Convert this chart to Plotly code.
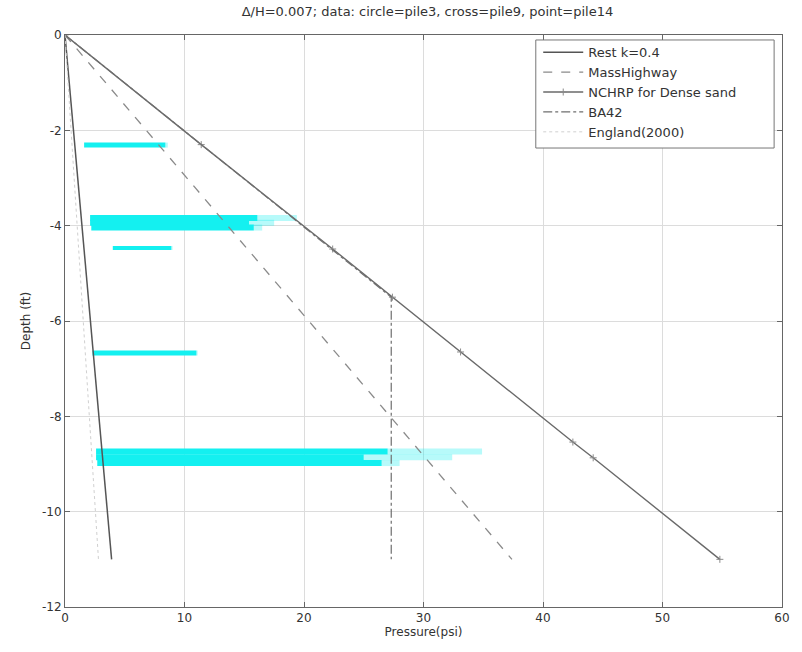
import plotly.graph_objects as go

# ---- design curves: lateral pressure (psi) vs depth (ft) ----
rest_depth = [0, -11]
rest_p = [0, 3.9]

mass_depth = [0, -11]
mass_p = [0, 37.4]

nchrp_depth = [0, -2.3, -4.49, -5.5, -6.65, -8.54, -8.87, -11]
nchrp_p = [0, 11.4, 22.4, 27.4, 33.1, 42.5, 44.2, 54.8]

ba42_depth = [0, -5.5, -11]
ba42_p = [0, 27.3, 27.3]

england_depth = [0, -11]
england_p = [0, 2.8]

# ---- measured pressures: gauge depth and range of readings ----
gauge_depth = [-2.31, -3.84, -3.94, -4.04, -4.47, -6.67, -8.74, -8.86, -8.98]
gauge_p_low = [1.6, 2.1, 2.1, 2.2, 4.0, 2.3, 2.6, 2.6, 2.7]
gauge_p_high = [8.4, 16.1, 15.4, 15.8, 8.9, 11.0, 27.0, 25.0, 26.5]
gauge_p_peak = [8.6, 19.4, 17.5, 16.5, 9.0, 11.1, 34.9, 32.4, 28.0]
gauge_width = [5, 6, 6, 6, 4, 5, 6, 6, 6]

# ---- axis ticks ----
x_ticks = [0, 10, 20, 30, 40, 50, 60]
y_ticks = [0, -2, -4, -6, -8, -10, -12]
x_tick_text = [str(v) for v in x_ticks]
y_tick_text = [str(v) for v in y_ticks]

CYAN = "#14f0f0"
FONT = "DejaVu Sans, Verdana, sans-serif"

fig = go.Figure()

# measured bands (drawn first so the design lines sit on top)
for d, lo, hi, pk, w in zip(gauge_depth, gauge_p_low, gauge_p_high, gauge_p_peak, gauge_width):
    fig.add_trace(go.Scatter(x=[hi, pk], y=[d, d], mode="lines",
                             line=dict(color=CYAN, width=w), opacity=0.3,
                             showlegend=False, hoverinfo="skip"))
    fig.add_trace(go.Scatter(x=[lo, hi], y=[d, d], mode="lines",
                             line=dict(color=CYAN, width=w),
                             showlegend=False, hoverinfo="skip"))

fig.add_trace(go.Scatter(x=rest_p, y=rest_depth, mode="lines", name="Rest k=0.4",
                         line=dict(color="#555555", width=1.5)))
fig.add_trace(go.Scatter(x=mass_p, y=mass_depth, mode="lines", name="MassHighway",
                         line=dict(color="#8a8a8a", width=1.3, dash="dash")))
fig.add_trace(go.Scatter(x=nchrp_p, y=nchrp_depth, mode="lines+markers",
                         name="NCHRP for Dense sand",
                         line=dict(color="#6a6a6a", width=1.4),
                         marker=dict(symbol="cross-thin", size=5,
                                     line=dict(color="#8a8a8a", width=1),
                                     color="#8a8a8a")))
fig.add_trace(go.Scatter(x=ba42_p, y=ba42_depth, mode="lines", name="BA42",
                         line=dict(color="#6f6f6f", width=1.2, dash="dashdot")))
fig.add_trace(go.Scatter(x=england_p, y=england_depth, mode="lines", name="England(2000)",
                         line=dict(color="#d0d0d0", width=1, dash="dot")))

axis_common = dict(
    showgrid=True, gridcolor="#dcdcdc", gridwidth=1,
    showline=True, linecolor="#666666", linewidth=1, mirror="ticks",
    ticks="inside", ticklen=5, tickcolor="#666666",
    zeroline=False, tickfont=dict(size=12, color="#333333"),
)

# framed legend panel in the upper-right corner
legend_frame = dict(type="rect", xref="paper", yref="paper",
                    x0=0.6566, x1=0.989, y0=0.8024, y1=0.9913,
                    fillcolor="white", line=dict(color="#777777", width=1),
                    layer="above")

fig.update_layout(
    width=802, height=652,
    margin=dict(l=65, r=12, t=35, b=45),
    paper_bgcolor="white", plot_bgcolor="white",
    font=dict(family=FONT, color="#333333"),
    title=dict(text="\u0394/H=0.007; data: circle=pile3, cross=pile9, point=pile14",
               x=0.533, xanchor="center", y=0.982, yanchor="middle",
               font=dict(size=13, color="#333333")),
    xaxis=dict(range=[0, 60], tickvals=x_ticks, ticktext=x_tick_text,
               title=dict(text="Pressure(psi)", font=dict(size=12), standoff=2),
               **axis_common),
    yaxis=dict(range=[-12, 0], tickvals=y_ticks, ticktext=y_tick_text,
               title=dict(text="Depth (ft)", font=dict(size=12), standoff=8),
               **axis_common),
    shapes=[legend_frame],
    legend=dict(x=0.66, y=0.996, xanchor="left", yanchor="top",
                bgcolor="rgba(0,0,0,0)", borderwidth=0,
                font=dict(size=13, color="#333333"),
                tracegroupgap=0, itemwidth=40),
)

fig.write_html("out.html")
